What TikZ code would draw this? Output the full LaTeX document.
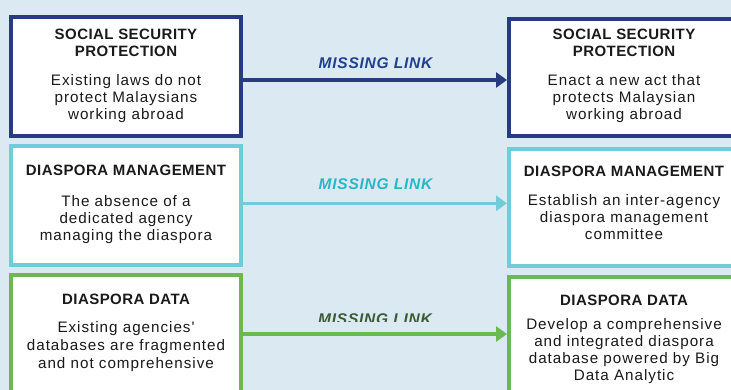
\documentclass[tikz,border=0pt]{standalone}
\usepackage{fontspec}
\setmainfont{Liberation Sans}
\newfontfamily\bodyf{Liberation Sans}[LetterSpace=6.5]
\newfontfamily\headf{Liberation Sans}[LetterSpace=3]
\newfontfamily\linkf{Liberation Sans}[LetterSpace=5]
\usetikzlibrary{arrows.meta}
\definecolor{bgc}{HTML}{DBE9F2}
\definecolor{navy}{HTML}{263C7F}
\definecolor{navyt}{HTML}{1F3F8F}
\definecolor{cyanb}{HTML}{72CCD8}
\definecolor{cyant}{HTML}{2BB5C8}
\definecolor{greenb}{HTML}{6AB951}
\definecolor{greent}{HTML}{3D5A36}
\definecolor{txt}{HTML}{1A1A1A}
\tikzset{
  box/.style={draw, fill=white, line width=4pt, minimum width=230pt, inner sep=0pt},
  head/.style={anchor=base, align=center, text=txt, font=\headf\bfseries\fontsize{15}{16.7}\selectfont},
  body/.style={anchor=base, align=center, text=txt, font=\bodyf\fontsize{15.2}{17}\selectfont},
  linklbl/.style={anchor=base, font=\linkf\bfseries\itshape\fontsize{15.5}{17}\selectfont},
  link/.style={line width=3.5pt, -{Triangle[length=11pt,width=15pt]}}
}
\begin{document}
\begin{tikzpicture}[x=1pt,y=1pt]
\useasboundingbox (0,0) rectangle (731,-390);
\clip (0,0) rectangle (731,-390);
\fill[bgc] (0,0) rectangle (731,-390);
% boxes
\node[box, draw=navy, minimum height=119pt] (b1l) at (126,-76.5) {};
\node[box, draw=navy, minimum height=117pt] (b1r) at (624,-77.5) {};
\node[box, draw=cyanb, minimum height=119pt] (b2l) at (126,-205.5) {};
\node[box, draw=cyanb, minimum height=117pt] (b2r) at (624,-207.5) {};
\node[box, draw=greenb, minimum height=119pt] (b3l) at (126,-334.5) {};
\node[box, draw=greenb, minimum height=117pt] (b3r) at (624,-335.5) {};
% texts (base anchor = baseline of last line)
\node[head] (h1l) at (126,-56.7) {SOCIAL SECURITY\\PROTECTION};
\node[body] (t1l) at (126,-120) {Existing laws do not\\protect Malaysians\\working abroad};
\node[head] (h1r) at (624,-56.7) {SOCIAL SECURITY\\PROTECTION};
\node[body] (t1r) at (624,-120) {Enact a new act that\\protects Malaysian\\working abroad};
\node[head] (h2l) at (126,-176) {DIASPORA MANAGEMENT};
\node[body] (t2l) at (126,-240.7) {The absence of a\\dedicated agency\\managing the diaspora};
\node[head] (h2r) at (624,-176.7) {DIASPORA MANAGEMENT};
\node[body] (t2r) at (624,-240) {Establish an inter-agency\\diaspora management\\committee};
\node[head] (h3l) at (126,-304) {DIASPORA DATA};
\node[body, font=\bodyf\fontsize{15.2}{18}\selectfont] (t3l) at (126,-368) {Existing agencies'\\databases are fragmented\\and not comprehensive};
\node[head] (h3r) at (624,-305.7) {DIASPORA DATA};
\node[body] (t3r) at (624,-380) {Develop a comprehensive\\and integrated diaspora\\database powered by Big\\Data Analytic};
% connectors
\coordinate (a1) at (0,-80);
\coordinate (a2) at (0,-203.3);
\coordinate (a3) at (0,-334);
\draw[link, navy, line width=4pt] (b1l.east |- a1) -- (b1r.west |- a1);
\draw[link, cyanb] (b2l.east |- a2) -- (b2r.west |- a2);
\draw[link, greenb] (b3l.east |- a3) -- (b3r.west |- a3);
\node[linklbl, text=navyt] (l1) at (375.5,-68.3) {MISSING LINK};
\node[linklbl, text=cyant] (l2) at (375.5,-190) {MISSING LINK};
\begin{scope}
\clip (240,-300) rectangle (510,-321);
\node[linklbl, text=greent] (l3) at (375,-324.5) {MISSING LINK};
\end{scope}
\end{tikzpicture}
\end{document}
